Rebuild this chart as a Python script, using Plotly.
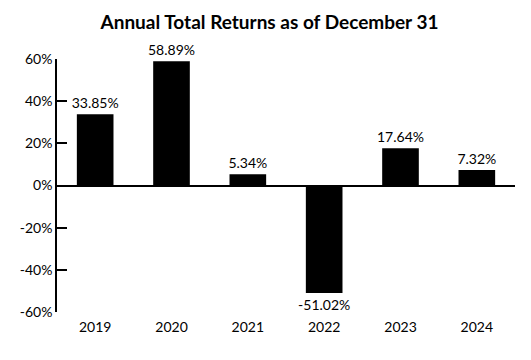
import plotly.graph_objects as go

years = ["2019", "2020", "2021", "2022", "2023", "2024"]
returns = [33.85, 58.89, 5.34, -51.02, 17.64, 7.32]
labels = ["33.85%", "58.89%", "5.34%", "-51.02%", "17.64%", "7.32%"]
y_ticks = [-60, -40, -20, 0, 20, 40, 60]
y_tick_labels = ["-60%", "-40%", "-20%", "0%", "20%", "40%", "60%"]

font_family = "Lato, Open Sans, sans-serif"

fig = go.Figure(
    go.Bar(
        x=years,
        y=returns,
        text=labels,
        textposition="outside",
        constraintext="none",
        textfont=dict(size=14, color="#000000", family=font_family),
        marker=dict(color="#000000", line=dict(width=0)),
        cliponaxis=False,
    )
)

# page body adds an 8px offset; compensate in size and margins
fig.update_layout(
    width=523,
    height=352,
    paper_bgcolor="white",
    plot_bgcolor="white",
    margin=dict(l=44, r=16, t=51, b=48),
    bargap=0.52,
    showlegend=False,
    title=dict(
        text="<b>Annual Total Returns as of December 31</b>",
        x=0.5,
        xanchor="center",
        y=0.96,
        yanchor="middle",
        font=dict(size=19, color="#000000", family=font_family),
    ),
    font=dict(family=font_family, color="#000000"),
)

fig.update_yaxes(
    range=[-60, 60],
    tickvals=y_ticks,
    ticktext=y_tick_labels,
    ticks="inside",
    ticklen=10,
    tickwidth=1.5,
    tickcolor="#000000",
    showline=True,
    linecolor="#000000",
    linewidth=1.5,
    showgrid=False,
    zeroline=True,
    zerolinecolor="#000000",
    zerolinewidth=1.5,
    tickfont=dict(size=14, color="#000000", family=font_family),
    fixedrange=True,
)

fig.update_xaxes(
    showline=False,
    showgrid=False,
    ticks="",
    ticklabelstandoff=5,
    tickfont=dict(size=14, color="#000000", family=font_family),
    fixedrange=True,
)

fig.write_html("out.html")
